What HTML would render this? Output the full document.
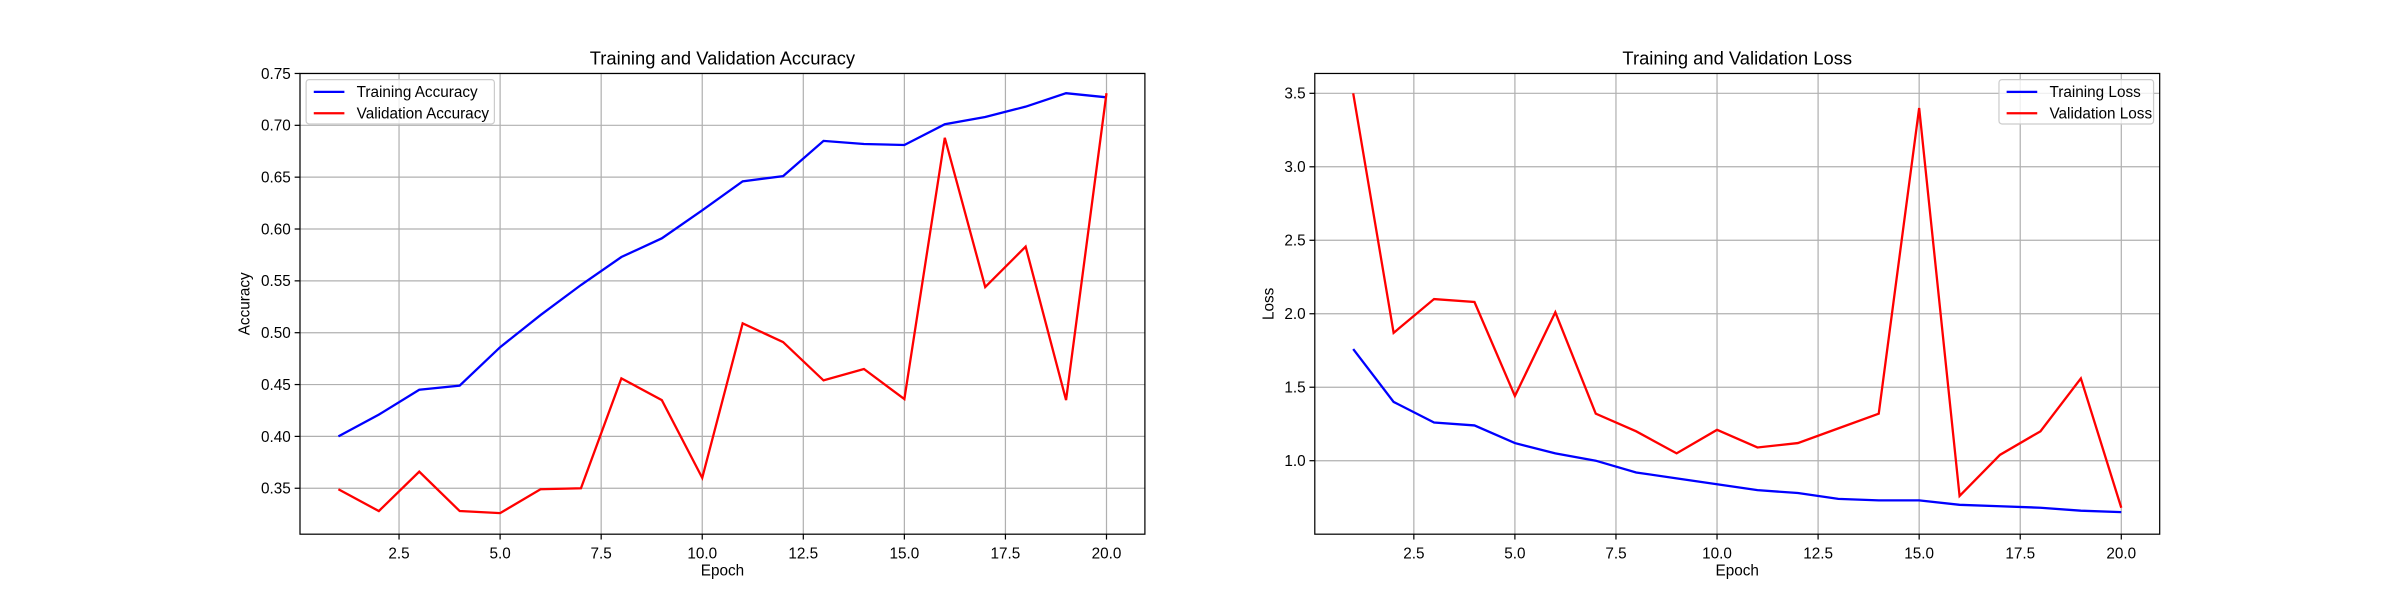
<!DOCTYPE html>
<html><head><meta charset="utf-8"><style>
body{margin:0;background:#fff;}
svg{display:block;font-family:"Liberation Sans","DejaVu Sans",sans-serif;}
</style></head><body>
<svg id="c" width="2400" height="600" viewBox="0 0 1568 392" preserveAspectRatio="none" xmlns="http://www.w3.org/2000/svg"></svg>
<script>
const epochs=[1,2,3,4,5,6,7,8,9,10,11,12,13,14,15,16,17,18,19,20];
const trainAcc=[0.400,0.421,0.445,0.449,0.486,0.517,0.546,0.573,0.591,0.618,0.646,0.651,0.685,0.682,0.681,0.701,0.708,0.718,0.731,0.727];
const valAcc=[0.349,0.328,0.366,0.328,0.326,0.349,0.350,0.456,0.435,0.360,0.509,0.491,0.454,0.465,0.436,0.688,0.544,0.583,0.435,0.731];
const trainLoss=[1.76,1.40,1.26,1.24,1.12,1.05,1.00,0.92,0.88,0.84,0.80,0.78,0.74,0.73,0.73,0.70,0.69,0.68,0.66,0.65];
const valLoss=[3.50,1.87,2.10,2.08,1.44,2.01,1.32,1.20,1.05,1.21,1.09,1.12,1.22,1.32,3.40,0.76,1.04,1.20,1.56,0.68];
const xTicks=[2.5,5.0,7.5,10.0,12.5,15.0,17.5,20.0];
const accTicks=[0.35,0.40,0.45,0.50,0.55,0.60,0.65,0.70,0.75];
const lossTicks=[1.0,1.5,2.0,2.5,3.0,3.5];

const svg=document.getElementById('c');
const NS='http://www.w3.org/2000/svg';
function mk(tag,attrs,parent){const e=document.createElementNS(NS,tag);for(const k in attrs)e.setAttribute(k,attrs[k]);(parent||svg).appendChild(e);return e;}

function panel(cfg){
  const g=mk('g',{});
  
  
  const L=cfg.x0,R=cfg.x1,T=48,B=349;
  const xs=v=>L+(v-0.05)/(20.95-0.05)*(R-L);
  const ys=v=>B-(v-cfg.ymin)/(cfg.ymax-cfg.ymin)*(B-T);
  xTicks.forEach(t=>{
    const l=mk('line',{x1:xs(t),x2:xs(t),y1:T,y2:B,stroke:'#b0b0b0','stroke-width':0.8},g);
    
    const tk=mk('line',{x1:xs(t),x2:xs(t),y1:B,y2:B+3.5,stroke:'#000','stroke-width':0.8},g);
    
    const tx=mk('text',{x:xs(t),y:B+16,'font-size':10,'text-anchor':'middle'},g);
    tx.textContent=t.toFixed(1);
    
  });
  cfg.yticks.forEach(t=>{
    const l=mk('line',{x1:L,x2:R,y1:ys(t),y2:ys(t),stroke:'#b0b0b0','stroke-width':0.8},g);
    
    const tk=mk('line',{x1:L-3.5,x2:L,y1:ys(t),y2:ys(t),stroke:'#000','stroke-width':0.8},g);
    
    const tx=mk('text',{x:L-6,y:ys(t)+3.5,'font-size':10,'text-anchor':'end'},g);
    tx.textContent=t.toFixed(cfg.dec);
    
  });
  cfg.series.forEach(s=>{
    const p=mk('polyline',{points:epochs.map((e,i)=>xs(e)+','+ys(s.data[i])).join(' '),fill:'none',stroke:s.color,'stroke-width':1.5},g);
    
  });
  const fr=mk('rect',{x:L,y:T,width:R-L,height:B-T,fill:'none',stroke:'#000','stroke-width':0.8},g);
  
  const ti=mk('text',{x:(L+R)/2,y:T-6,'font-size':12,'text-anchor':'middle'},g);
  ti.textContent=cfg.title;
  const xl=mk('text',{x:(L+R)/2,y:B+27,'font-size':10,'text-anchor':'middle'},g);
  xl.textContent='Epoch';
  const yl=mk('text',{x:0,y:0,'font-size':10,'text-anchor':'middle',transform:`translate(${cfg.ylabelX},${(T+B)/2}) rotate(-90)`},g);
  yl.textContent=cfg.ylabel;
  const lg=mk('g',{},g);
  
  const lx=cfg.legendX,ly=52,lw=cfg.legendW;
  mk('rect',{x:lx,y:ly,width:lw,height:29,fill:'#fff','fill-opacity':0.8,stroke:'#ccc','stroke-width':0.8,rx:2},lg);
  cfg.series.forEach((s,i)=>{
    const yy=ly+8+i*14;
    const ln=mk('line',{x1:lx+5,x2:lx+25,y1:yy,y2:yy,stroke:s.color,'stroke-width':1.5},lg);
    
    const t=mk('text',{x:lx+33,y:yy+3.5,'font-size':10},lg);
    t.textContent=s.label;
  });
}
panel({name:'accuracy-chart',x0:196,x1:748,ymin:0.3057,ymax:0.7500,yticks:accTicks,dec:2,title:'Training and Validation Accuracy',ylabel:'Accuracy',ylabelX:163,legendX:200,legendW:123,
  series:[{id:'training-accuracy-line',data:trainAcc,color:'#0000ff',label:'Training Accuracy'},{id:'validation-accuracy-line',data:valAcc,color:'#ff0000',label:'Validation Accuracy'}]});
panel({name:'loss-chart',x0:859,x1:1411,ymin:0.5,ymax:3.635,yticks:lossTicks,dec:1,title:'Training and Validation Loss',ylabel:'Loss',ylabelX:832,legendX:1306,legendW:101,
  series:[{id:'training-loss-line',data:trainLoss,color:'#0000ff',label:'Training Loss'},{id:'validation-loss-line',data:valLoss,color:'#ff0000',label:'Validation Loss'}]});
</script>
</body></html>
